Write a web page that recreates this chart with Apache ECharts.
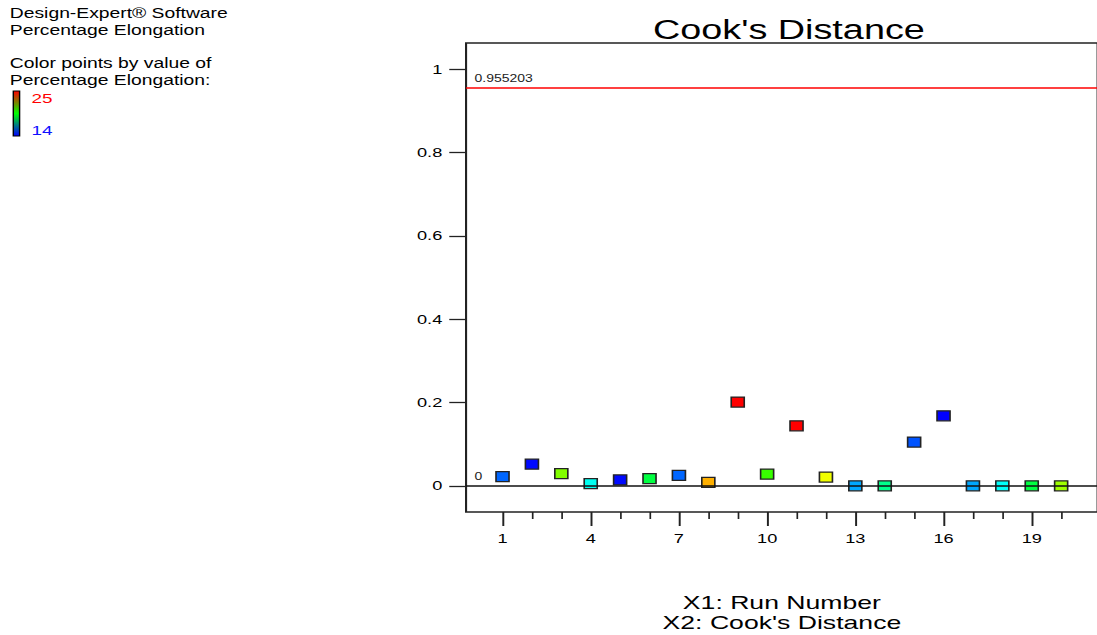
<!DOCTYPE html>
<html>
<head>
<meta charset="utf-8">
<script src="https://cdn.jsdelivr.net/npm/echarts@6/dist/echarts.min.js"></script>
<style>
  html, body { margin: 0; padding: 0; background: #fff; overflow: hidden; }
  /* The graph is laid out narrow and stretched horizontally, the way the
     plotting package renders its wide-aspect graphs (wide text and markers). */
  #wrap { width: 1097px; height: 635px; overflow: hidden; }
  #chart { width: 783.57px; height: 635px; transform: scaleX(1.4); transform-origin: 0 0; }
</style>
</head>
<body>
<div id="wrap"><div id="chart"></div></div>
<script>
// Run order
const runs = [1, 2, 3, 4, 5, 6, 7, 8, 9, 10, 11, 12, 13, 14, 15, 16, 17, 18, 19, 20];
// Cook's distance for each run
const cooksDistance = [0.022, 0.052, 0.029, 0.005, 0.014, 0.017, 0.025, 0.008, 0.201, 0.028,
                       0.144, 0.021, 0.000, 0.000, 0.105, 0.168, 0.000, 0.000, 0.000, 0.000];
// Response used to colour the points
const elongation = [15.1, 14.1, 20.9, 16.9, 14.1, 18.8, 15.1, 23.1, 25.0, 20.1,
                    25.0, 22.1, 15.8, 18.0, 14.9, 14.0, 15.8, 16.8, 18.8, 21.2];
// Reference limits
const upperLimit = 0.955203;
const lowerLimit = 0;
// Colour scale range
const colorMin = 14;
const colorMax = 25;
// Axis ticks
const yTicks = [0, 0.2, 0.4, 0.6, 0.8, 1];
const xMajorTicks = [1, 4, 7, 10, 13, 16, 19];
const xMinorTicks = [2, 3, 5, 6, 8, 9, 11, 12, 14, 15, 17, 18, 20];

const FONT = '"Liberation Sans", Arial, sans-serif';
const points = runs.map((r, i) => [r, cooksDistance[i], elongation[i]]);

const chart = echarts.init(document.getElementById('chart'), null, { renderer: 'svg' });

chart.setOption({
  animation: false,
  backgroundColor: '#ffffff',
  textStyle: { fontFamily: FONT },
  title: {
    text: "Cook's Distance",
    left: 558.5,
    textAlign: 'center',
    top: 11,
    textStyle: { fontFamily: FONT, fontSize: 27, fontWeight: 'normal', color: '#000' }
  },
  grid: {
    left: 332.9, top: 43, right: -2.9, bottom: 123,
    show: true, borderColor: '#222', borderWidth: 1.5, backgroundColor: 'transparent'
  },
  visualMap: {
    type: 'continuous', show: false, seriesIndex: 0, dimension: 2,
    min: colorMin, max: colorMax,
    inRange: { color: ['#0000ff', '#00ffff', '#00ff00', '#ffff00', '#ff0000'] }
  },
  xAxis: [
    {
      type: 'value', min: -0.24, max: 21.24, position: 'bottom',
      axisLine: { show: false, onZero: false },
      splitLine: { show: false },
      axisTick: { show: true, customValues: xMajorTicks, length: 14, lineStyle: { color: '#222', width: 1.4 } },
      axisLabel: { show: true, customValues: xMajorTicks, margin: 20, fontSize: 13, color: '#000', fontFamily: FONT }
    },
    {
      type: 'value', min: -0.24, max: 21.24, position: 'bottom',
      axisLine: { show: false, onZero: false },
      splitLine: { show: false },
      axisTick: { show: true, customValues: xMinorTicks, length: 7, lineStyle: { color: '#222', width: 1.2 } },
      axisLabel: { show: false }
    }
  ],
  yAxis: {
    type: 'value', min: -0.063, max: 1.063, position: 'left',
    axisLine: { show: false, onZero: false },
    splitLine: { show: false },
    axisTick: { show: true, customValues: yTicks, length: 12, lineStyle: { color: '#222', width: 1.3 } },
    axisLabel: { show: true, customValues: yTicks, margin: 17, fontSize: 13, color: '#000', fontFamily: FONT }
  },
  series: [
    {
      type: 'scatter',
      data: points,
      symbol: 'rect',
      symbolSize: [9.3, 10],
      itemStyle: { borderColor: '#222', borderWidth: 1.2, opacity: 1 },
      z: 2
    },
    {
      type: 'line',
      data: [],
      z: 5,
      markLine: {
        silent: true,
        symbol: 'none',
        animation: false,
        precision: 6,
        label: {
          show: true, position: 'insideStartTop',
          formatter: (p) => String(p.value),
          fontSize: 10, color: '#222', fontFamily: FONT, distance: [6, 4]
        },
        data: [
          { yAxis: upperLimit, lineStyle: { color: '#ff0000', width: 1.5, type: 'solid' } },
          { yAxis: lowerLimit, lineStyle: { color: '#111', width: 1.5, type: 'solid' } }
        ]
      }
    }
  ],
  graphic: [
    {
      type: 'text', left: 7, top: 5,
      style: {
        text: 'Design-Expert\u00AE Software\nPercentage Elongation',
        fontSize: 13.8, lineHeight: 17, fill: '#000', fontFamily: FONT
      }
    },
    {
      type: 'text', left: 7, top: 55,
      style: {
        text: 'Color points by value of\nPercentage Elongation:',
        fontSize: 13.8, lineHeight: 17, fill: '#000', fontFamily: FONT
      }
    },
    {
      type: 'rect',
      shape: { x: 9.5, y: 91, width: 4.5, height: 45 },
      style: {
        fill: new echarts.graphic.LinearGradient(0, 0, 0, 1, [
          { offset: 0, color: '#ff0000' },
          { offset: 0.5, color: '#00ff00' },
          { offset: 1, color: '#0000ff' }
        ]),
        stroke: '#000', lineWidth: 1
      }
    },
    {
      type: 'text', left: 22.5, top: 91,
      style: { text: String(colorMax), fontSize: 13.5, fill: '#ff0000', fontFamily: FONT }
    },
    {
      type: 'text', left: 22.5, top: 123,
      style: { text: String(colorMin), fontSize: 13.5, fill: '#1010ff', fontFamily: FONT }
    },
    {
      type: 'text', x: 558.5, y: 592,
      style: {
        text: "X1: Run Number\nX2: Cook's Distance",
        fontSize: 19, lineHeight: 20, fill: '#000', fontFamily: FONT, align: 'center', verticalAlign: 'top'
      }
    }
  ]
});
</script>
</body>
</html>
